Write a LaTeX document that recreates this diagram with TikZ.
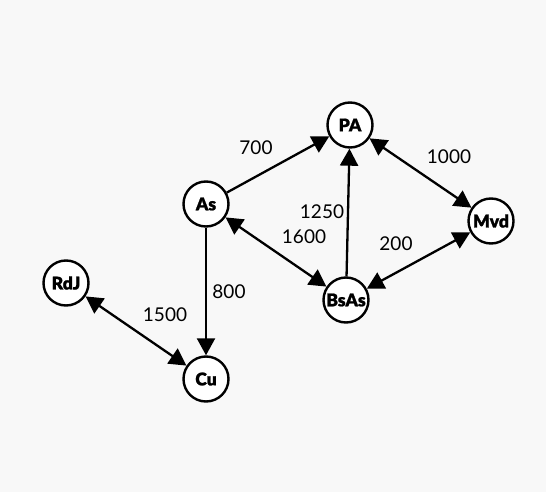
\documentclass[tikz,border=0pt]{standalone}
\usepackage{fontspec}
\setmainfont{Lato}
\newfontfamily\cityfont{Lato}[UprightFont=*-Bold,FakeBold=1.2]
\usetikzlibrary{arrows.meta}
\definecolor{paper}{HTML}{F8F8F8}
\begin{document}
\begin{tikzpicture}[x=1pt,y=-1pt,
  city/.style={circle,draw,line width=2.4pt,fill=white,minimum size=45pt,
    inner sep=0pt,font=\fontsize{17.5}{17.5}\selectfont\cityfont\bfseries},
  tip/.tip={Triangle[length=17pt,width=18pt]},
  road/.style={line width=2.3pt,-tip},
  twoway/.style={line width=2.3pt,tip-tip},
  dist/.style={font=\fontsize{19}{19}\selectfont}]
  % canvas
  \fill[paper] (0,0) rectangle (546,492);
  \useasboundingbox (0,0) rectangle (546,492);
  % cities
  \node[city] (PA)   at (350,125) {PA};
  \node[city] (As)   at (206,204) {As};
  \node[city] (Mvd)  at (491,221) {Mvd};
  \node[city] (BsAs) at (346,300) {BsAs};
  \node[city] (RdJ)  at (66,283)  {RdJ};
  \node[city] (Cu)   at (206,379) {Cu};
  % routes
  \draw[road]   (As)   -- (PA);
  \draw[twoway] (PA)   -- (Mvd);
  \draw[twoway] (As)   -- (BsAs);
  \draw[road]   (BsAs) -- (PA);
  \draw[twoway] (BsAs) -- (Mvd);
  \draw[road]   (As)   -- (Cu);
  \draw[twoway] (RdJ)  -- (Cu);
  % distances
  \node[dist] (d700)  at (256,148) {700};
  \node[dist] (d1000) at (449,157) {1000};
  \node[dist] (d1250) at (322,212) {1250};
  \node[dist] (d1600) at (304,237) {1600};
  \node[dist] (d200)  at (396,244) {200};
  \node[dist] (d800)  at (229,292) {800};
  \node[dist] (d1500) at (165,315) {1500};
\end{tikzpicture}
\end{document}
